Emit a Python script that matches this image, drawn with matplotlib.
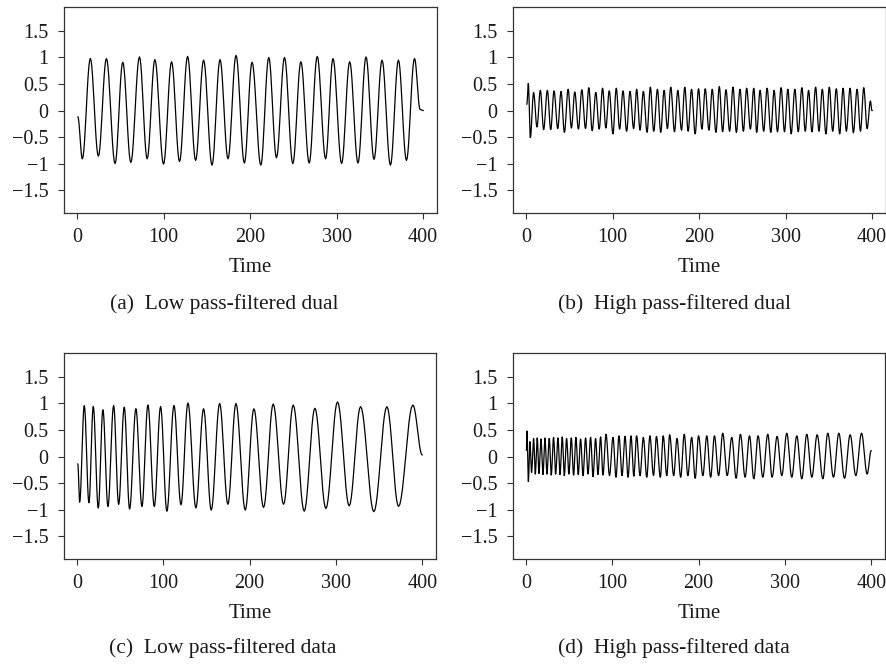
import numpy as np
import matplotlib
matplotlib.use("Agg")
import matplotlib.pyplot as plt

plt.rcParams['font.family'] = ['Liberation Serif', 'DejaVu Serif']

# (a) low pass-filtered dual: start, peaks, troughs, end
a_start = (1.0, -0.12)
a_peak_t = [15.4, 34.0, 52.9, 72.2, 90.0, 109.3, 127.8, 146.3, 165.3, 183.8, 202.3,
            221.6, 239.8, 258.7, 277.6, 295.8, 315.1, 334.0, 352.5, 371.4, 390.0]
a_peak_v = [0.98, 0.98, 0.91, 1.01, 0.96, 0.92, 1.02, 0.95, 0.96, 1.04, 0.91,
            1.0, 1.0, 0.92, 1.02, 0.98, 0.92, 1.01, 0.95, 0.95, 0.98]
a_trough_t = [6.2, 24.7, 44.0, 62.2, 81.1, 100.0, 118.5, 137.1, 156.0, 174.5, 193.4,
              212.4, 230.5, 249.4, 268.3, 287.3, 305.8, 324.7, 343.2, 362.2, 380.7]
a_trough_v = [-0.91, -0.86, -1.0, -0.98, -0.91, -1.01, -0.96, -0.94, -1.03, -0.91, -0.99,
              -1.03, -0.89, -1.0, -0.99, -0.91, -1.0, -0.99, -0.92, -1.03, -0.94]
a_end = [(396.5, 0.02), (400.0, 0.0)]

# (b) high pass-filtered dual
b_start = (1.0, 0.12)
b_peak_t = [2.7, 8.8, 16.6, 24.7, 32.4, 40.5, 48.7, 56.4, 64.5, 72.6, 80.7, 88.5, 96.2,
            104.3, 112.1, 120.2, 127.9, 135.6, 143.7, 151.9, 159.6, 167.3, 175.4, 183.5,
            191.3, 199.4, 207.1, 215.2, 223.4, 231.1, 239.2, 247.3, 255.0, 263.2, 270.5,
            278.6, 286.7, 294.8, 302.6, 310.7, 318.8, 326.5, 334.7, 342.4, 350.5, 358.6,
            366.4, 374.5, 382.6, 390.3, 398.0]
b_peak_v = [0.51, 0.34, 0.38, 0.38, 0.37, 0.36, 0.40, 0.35, 0.39, 0.43, 0.34, 0.42, 0.37,
            0.42, 0.37, 0.36, 0.40, 0.36, 0.44, 0.40, 0.38, 0.44, 0.38, 0.44, 0.40, 0.41,
            0.41, 0.40, 0.45, 0.39, 0.44, 0.40, 0.42, 0.42, 0.38, 0.42, 0.38, 0.43, 0.40,
            0.40, 0.43, 0.38, 0.44, 0.40, 0.44, 0.41, 0.42, 0.42, 0.40, 0.43, 0.18]
b_trough_t = [5.0, 12.7, 20.4, 28.6, 36.7, 44.4, 52.5, 60.6, 68.8, 76.5, 84.6, 92.3, 100.5,
              108.2, 116.3, 124.4, 131.8, 139.9, 147.6, 155.7, 163.4, 171.6, 179.7, 187.4,
              195.5, 203.3, 211.4, 219.5, 227.2, 235.3, 243.1, 251.2, 259.3, 266.6, 274.7,
              282.9, 290.6, 298.7, 306.4, 314.6, 322.7, 330.4, 338.5, 346.6, 354.4, 362.5,
              370.2, 378.3, 386.5, 394.2]
b_trough_v = [-0.51, -0.31, -0.36, -0.36, -0.34, -0.41, -0.33, -0.35, -0.34, -0.38, -0.35,
              -0.33, -0.44, -0.35, -0.39, -0.34, -0.37, -0.41, -0.39, -0.41, -0.34, -0.40,
              -0.37, -0.39, -0.44, -0.35, -0.37, -0.41, -0.40, -0.39, -0.41, -0.39, -0.35,
              -0.41, -0.39, -0.41, -0.40, -0.40, -0.44, -0.40, -0.39, -0.40, -0.39, -0.44,
              -0.39, -0.44, -0.39, -0.42, -0.39, -0.34]
b_end = [(399.6, 0.0), (400.0, 0.0)]

# (c) low pass-filtered data
c_start = (1.0, -0.14)
c_peak_t = [8.5, 18.9, 30.1, 42.5, 54.8, 68.3, 82.2, 96.9, 112.4, 128.6, 146.7,
            165.3, 184.2, 205.0, 227.4, 250.6, 275.7, 301.9, 328.6, 359.1, 389.2]
c_peak_v = [0.96, 0.94, 0.88, 0.96, 0.93, 0.90, 0.97, 0.94, 0.96, 1.01, 0.90,
            1.0, 1.0, 0.90, 0.99, 0.97, 0.91, 1.03, 0.94, 0.94, 0.97]
c_trough_t = [3.1, 13.9, 24.7, 35.9, 48.3, 61.0, 75.3, 89.6, 104.2, 120.5, 137.8,
              155.6, 174.9, 195.0, 216.2, 239.4, 263.3, 288.4, 315.4, 344.0, 372.6]
c_trough_v = [-0.86, -0.87, -0.97, -0.94, -0.90, -0.99, -0.94, -0.94, -1.03, -0.91, -0.97,
              -1.01, -0.90, -1.01, -0.96, -0.90, -1.03, -0.98, -0.93, -1.04, -0.94]
c_end = [(400.0, 0.03)]

# (d) high pass-filtered data
d_start = (0.5, 0.12)
d_peak_t = [1.2, 4.6, 8.9, 13.1, 17.4, 22.0, 27.0, 32.0, 37.1, 42.1, 47.1, 52.5, 57.9,
            63.3, 69.1, 74.9, 80.7, 86.5, 92.8, 100.9, 107.8, 114.8, 121.7, 128.2, 136.0,
            143.6, 151.2, 159.0, 166.5, 175.0, 183.4, 192.0, 200.0, 209.5, 218.4, 228.0,
            238.5, 248.5, 259.0, 269.0, 280.2, 291.0, 302.2, 313.8, 325.4, 337.4, 349.7,
            362.5, 375.6, 388.8]
d_peak_v = [0.48, 0.28, 0.34, 0.35, 0.33, 0.35, 0.34, 0.36, 0.35, 0.37, 0.34, 0.35, 0.36,
            0.33, 0.35, 0.36, 0.34, 0.37, 0.42, 0.36, 0.39, 0.38, 0.39, 0.39, 0.36, 0.39,
            0.38, 0.39, 0.41, 0.34, 0.42, 0.36, 0.39, 0.39, 0.39, 0.44, 0.36, 0.42, 0.39,
            0.39, 0.42, 0.38, 0.44, 0.39, 0.42, 0.41, 0.44, 0.44, 0.41, 0.44]
d_trough_t = [2.8, 6.5, 10.8, 15.0, 19.7, 24.3, 29.3, 34.4, 39.4, 44.4, 49.8, 55.2, 60.6,
              66.1, 71.9, 77.7, 83.4, 89.2, 96.8, 104.3, 111.3, 118.3, 125.0, 132.2, 140.0,
              147.8, 155.7, 163.2, 171.2, 179.3, 187.6, 196.1, 205.0, 214.0, 223.2, 233.2,
              243.5, 253.9, 264.0, 274.4, 285.2, 296.4, 308.0, 319.6, 331.2, 344.0, 356.3,
              369.1, 382.2, 395.3]
d_trough_v = [-0.47, -0.30, -0.33, -0.32, -0.34, -0.33, -0.35, -0.33, -0.34, -0.36, -0.33,
              -0.35, -0.34, -0.36, -0.33, -0.38, -0.34, -0.35, -0.36, -0.39, -0.36, -0.39,
              -0.37, -0.36, -0.39, -0.36, -0.39, -0.36, -0.36, -0.39, -0.36, -0.41, -0.36,
              -0.39, -0.36, -0.36, -0.41, -0.39, -0.42, -0.39, -0.39, -0.36, -0.39, -0.42,
              -0.39, -0.42, -0.39, -0.41, -0.36, -0.33]
d_end = [(400.0, 0.11)]

captions = ['(a)  Low pass-filtered dual', '(b)  High pass-filtered dual',
            '(c)  Low pass-filtered data', '(d)  High pass-filtered data']
ytick_vals = [-1.5, -1, -0.5, 0, 0.5, 1, 1.5]
ytick_labels = ['\u22121.5', '\u22121', '\u22120.5', '0', '0.5', '1', '1.5']
xtick_vals = [0, 100, 200, 300, 400]


def build_curve(start, pt, pv, tt, tv, end, n=12):
    # join the read extrema with half-cosine segments
    knots = [start] + sorted(list(zip(pt, pv)) + list(zip(tt, tv))) + list(end)
    xs, ys = [knots[0][0]], [knots[0][1]]
    for (t0, v0), (t1, v1) in zip(knots[:-1], knots[1:]):
        s = np.linspace(0, 1, n)[1:]
        xs.extend(t0 + (t1 - t0) * s)
        ys.extend(v0 + (v1 - v0) * (1 - np.cos(np.pi * s)) / 2)
    return np.array(xs), np.array(ys)


series = [
    (a_start, a_peak_t, a_peak_v, a_trough_t, a_trough_v, a_end),
    (b_start, b_peak_t, b_peak_v, b_trough_t, b_trough_v, b_end),
    (c_start, c_peak_t, c_peak_v, c_trough_t, c_trough_v, c_end),
    (d_start, d_peak_t, d_peak_v, d_trough_t, d_trough_v, d_end),
]

W, H = 887, 664
boxes = [(64, 7, 373, 206), (513, 7, 373, 206), (64, 353, 372, 206), (513, 353, 372, 206)]
caption_x = [224, 674, 223, 674]
caption_y = [304, 304, 648, 648]

fig = plt.figure(figsize=(W / 100, H / 100), dpi=100)
for i, (box, ser) in enumerate(zip(boxes, series)):
    l, t, w, h = box
    ax = fig.add_axes([l / W, 1 - (t + h) / H, w / W, h / H])
    x, y = build_curve(*ser)
    ax.plot(x, y, color='black', lw=0.9)
    ax.set_xlim(-15, 416)
    ax.set_ylim(-1.93, 1.95)
    ax.set_yticks(ytick_vals)
    ax.set_yticklabels(ytick_labels)
    ax.set_xticks(xtick_vals)
    ax.tick_params(direction='out', length=4, width=0.8, labelsize=14.5, pad=7,
                   color='#333333', labelcolor='#1a1a1a')
    for sp in ax.spines.values():
        sp.set_linewidth(0.9)
        sp.set_color('#333333')
    ax.set_xlabel('Time', fontsize=15, labelpad=8, color='#1a1a1a')
    fig.text(caption_x[i] / W, 1 - caption_y[i] / H, captions[i], ha='center', va='center',
             fontsize=15.5, color='#1a1a1a')

fig.savefig('out.png', dpi=100)
